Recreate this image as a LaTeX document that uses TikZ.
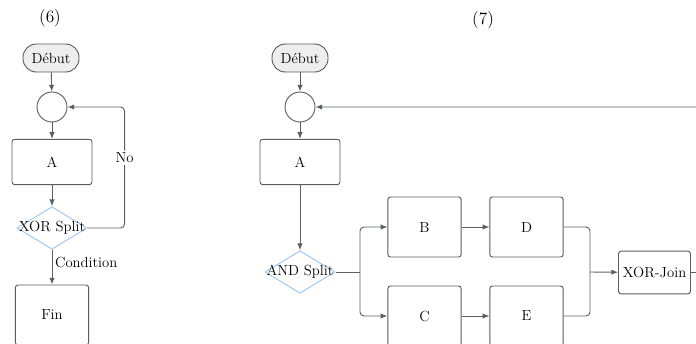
\documentclass[tikz,border=0pt]{standalone}
\usepackage{tikz}
\usetikzlibrary{arrows.meta,shapes.geometric}

\definecolor{linegray}{HTML}{5A5F66}
\definecolor{boxgray}{HTML}{5C5C5C}
\definecolor{pillfill}{HTML}{EEEEEE}
\definecolor{gateblue}{HTML}{A9CCF2}

\begin{document}
\begin{tikzpicture}[x=0.75pt,y=-0.75pt,
    font=\fontsize{11}{13}\selectfont,
    conn/.style={draw=linegray,line width=0.7pt,rounded corners=3pt},
    arr/.style={conn,-{Latex[length=5pt,width=4pt]}},
    pill/.style={draw=boxgray,line width=0.7pt,fill=pillfill,rounded corners=10pt,
      minimum width=42pt,minimum height=21pt,inner sep=0pt},
    junction/.style={draw=boxgray,line width=0.7pt,circle,minimum size=22.5pt,inner sep=0pt},
    task/.style={draw=boxgray,line width=0.7pt,rounded corners=2pt,fill=white,inner sep=0pt,
      minimum width=55pt,minimum height=45pt},
    gate/.style={draw=gateblue,line width=0.8pt,diamond,minimum width=52.5pt,
      minimum height=32pt,inner sep=0pt},
    title/.style={font=\fontsize{13}{15}\selectfont}]
  \useasboundingbox (0,0) rectangle (696,343);
  \clip (0,0) rectangle (696,343);

  % --- (6): loop back through the XOR split
  \node[title] (title6) at (50,18) {(6)};
  \node[pill] (deb6) at (51,58) {Début};
  \node[junction] (m6) at (52,107) {};
  \node[task,minimum width=60pt,minimum height=34pt] (a6) at (52,162) {A};
  \node[gate] (xor6) at (52,228) {};
  \node (xor6txt) at (xor6) {XOR Split};
  \node[task] (fin6) at (52,315) {Fin};

  \draw[arr] (deb6) -- (m6);
  \draw[arr] (m6) -- (a6);
  \draw[arr] (a6) -- (xor6);
  \draw[arr] (xor6) -- (fin6) node[pos=0.35,right,inner sep=2pt] {Condition};
  \draw[arr] (xor6.east) -- ++(37,0) |- (m6)
    node[pos=0.29,fill=white,inner sep=1.5pt] {No};

  % --- (7): parallel branches, joined and sent back to the start
  \node[title] (title7) at (483,20) {(7)};
  \node[pill] (deb7) at (300,58) {Début};
  \node[junction] (m7) at (300,107) {};
  \node[task,minimum width=60pt,minimum height=34pt] (a7) at (300,162) {A};
  \node[gate] (and7) at (300,272) {};
  \node (and7txt) at (and7) {AND Split};
  \coordinate (split7) at (360,272);
  \node[task] (b7) at (424.5,227) {B};
  \node[task] (c7) at (424.5,316) {C};
  \node[task] (d7) at (526.5,227) {D};
  \node[task] (e7) at (526.5,316) {E};
  \coordinate (merge7) at (590,272);
  \node[task,minimum width=54pt,minimum height=32pt] (join7) at (654.5,272.5) {XOR-Join};

  \draw[arr] (deb7) -- (m7);
  \draw[arr] (m7) -- (a7);
  \draw[arr] (a7) -- (and7);
  \draw[conn] (and7) -- (split7);
  \draw[arr] (split7) |- (b7);
  \draw[arr] (split7) |- (c7);
  \draw[arr] (b7) -- (d7);
  \draw[arr] (c7) -- (e7);
  \draw[conn] (d7) -| (merge7);
  \draw[conn] (e7) -| (merge7);
  \draw[arr] (merge7) -- (join7);
  \draw[arr] (join7.east) -- ++(30,0) |- (m7);
\end{tikzpicture}
\end{document}
